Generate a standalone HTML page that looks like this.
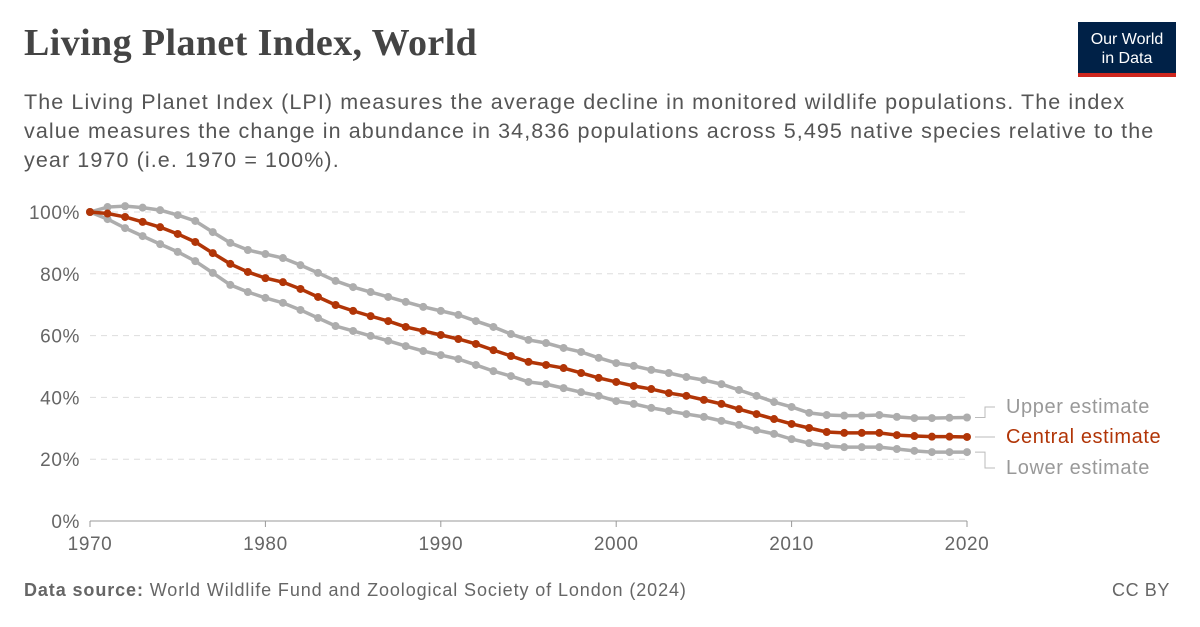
<!DOCTYPE html>
<html><head><meta charset="utf-8">
<style>
body{margin:0;width:1200px;height:627px;background:#fff;font-family:"Liberation Sans",sans-serif;overflow:hidden;position:relative}
#title{position:absolute;left:24px;top:21px;font-family:"Liberation Serif",serif;font-weight:bold;font-size:38px;letter-spacing:0.4px;color:#444;white-space:nowrap}
#sub{position:absolute;left:24px;top:88px;font-size:21.5px;letter-spacing:1.1px;line-height:29px;color:#555;white-space:nowrap}
#logo{position:absolute;left:1078px;top:22px;width:98px;height:55px;background:#002147;color:#fff;font-size:16px;line-height:19px;text-align:center;box-sizing:border-box;padding-top:8px}
#logo::after{content:"";position:absolute;left:0;bottom:0;width:100%;height:4px;background:#ce261e}
#src{position:absolute;left:24px;top:580px;font-size:18px;letter-spacing:0.9px;color:#666;white-space:nowrap}
#cc{position:absolute;right:30px;top:580px;font-size:18px;letter-spacing:0.6px;color:#666}
svg{position:absolute;left:0;top:0}
</style></head><body>
<div id="title">Living Planet Index, World</div>
<div id="logo">Our World<br>in Data</div>
<div id="sub">The Living Planet Index (LPI) measures the average decline in monitored wildlife populations. The index<br>value measures the change in abundance in 34,836 populations across 5,495 native species relative to the<br>year 1970 (i.e. 1970 = 100%).</div>
<svg id="chart" width="1200" height="627"></svg>
<div id="src"><b>Data source:</b> World Wildlife Fund and Zoological Society of London (2024)</div>
<div id="cc">CC BY</div>
<script>
const years=[];for(let y=1970;y<=2020;y++)years.push(y);
const central=[100,99.5,98.4,96.8,95.1,92.9,90.3,86.7,83.2,80.6,78.6,77.3,75.1,72.5,69.9,68,66.3,64.7,62.8,61.5,60.2,58.9,57.3,55.3,53.4,51.5,50.5,49.5,47.9,46.3,45,43.7,42.7,41.4,40.5,39.2,37.9,36.2,34.6,33,31.4,30.1,28.8,28.5,28.5,28.5,27.8,27.5,27.3,27.3,27.2];
const upper=[100,101.6,101.9,101.4,100.6,99,97.1,93.5,90,87.7,86.4,85.1,82.8,80.3,77.7,75.7,74.1,72.5,70.9,69.3,68,66.7,64.7,62.8,60.5,58.6,57.6,56,54.7,52.8,51.1,50.2,48.9,47.9,46.6,45.6,44.3,42.4,40.5,38.5,36.9,35,34.3,34.1,34.1,34.3,33.7,33.3,33.3,33.4,33.5];
const lower=[100,97.7,94.8,92.2,89.6,87.1,84.1,80.3,76.4,74.1,72.2,70.6,68.3,65.7,63.1,61.5,59.9,58.3,56.6,55,53.7,52.4,50.5,48.5,46.9,45,44.3,43,41.7,40.5,38.8,37.9,36.6,35.6,34.6,33.7,32.4,31.1,29.4,28.2,26.5,25.2,24.3,23.9,23.9,23.9,23.3,22.7,22.3,22.3,22.3];
const yTicks=[0,20,40,60,80,100];
const xTicks=[1970,1980,1990,2000,2010,2020];
const NS="http://www.w3.org/2000/svg";
const svg=document.getElementById('chart');
const X=y=>90+(y-1970)*(967-90)/50;
const Y=v=>521-v*(521-212)/100;
function mk(t,a){const e=document.createElementNS(NS,t);for(const k in a)e.setAttribute(k,a[k]);svg.appendChild(e);return e;}
yTicks.forEach(v=>{
  if(v>0){const l=mk('line',{x1:90,x2:967,y1:Y(v),y2:Y(v),stroke:'#ddd','stroke-dasharray':'6,5'});
  
  }
  const t=mk('text',{x:80,y:Y(v)+7,'text-anchor':'end','font-size':19,'letter-spacing':0.6,fill:'#666','font-family':'Liberation Sans'});t.textContent=v+'%';
  
  
});
const ax=mk('line',{x1:90,x2:967,y1:521,y2:521,stroke:'#999'});


xTicks.forEach(v=>{
  mk('line',{x1:X(v),x2:X(v),y1:521,y2:527,stroke:'#999'});
  const t=mk('text',{x:X(v),y:550,'text-anchor':'middle','font-size':19,'letter-spacing':0.6,fill:'#666','font-family':'Liberation Sans'});t.textContent=v;
  
  
});
function series(vals,color,name,label,ly){
  const d=vals.map((v,i)=>(i?'L':'M')+X(years[i])+','+Y(v)).join('');
  const p=mk('path',{d:d,fill:'none',stroke:color,'stroke-width':3.5});
  
  
  vals.forEach((v,i)=>{const c=mk('circle',{cx:X(years[i]),cy:Y(v),r:4,fill:color});
    
    });
  const ey=Y(vals[vals.length-1]);
  mk('path',{d:`M975,${ey}H985V${ly-6}H995`,fill:'none',stroke:'#bbb','stroke-width':1});
  const t=mk('text',{x:1006,y:ly,'font-size':20,'letter-spacing':0.6,fill:color==='#b13507'?'#b13507':'#999','font-family':'Liberation Sans'});t.textContent=label;
  
  
}
series(upper,'#adadad','upper-estimate','Upper estimate',413);
series(lower,'#adadad','lower-estimate','Lower estimate',474);
series(central,'#b13507','central-estimate','Central estimate',443);
</script>
</body></html>
